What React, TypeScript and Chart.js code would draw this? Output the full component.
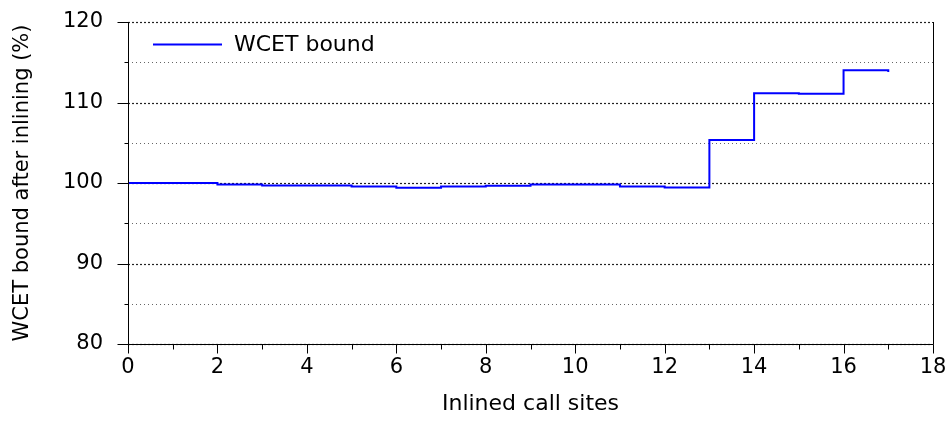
import React, { useEffect, useRef } from "react";
import { Chart, registerables } from "chart.js";

Chart.register(...registerables);

const callSites = [0, 1, 2, 3, 4, 5, 6, 7, 8, 9, 10, 11, 12, 13, 14, 15, 16, 17];
const wcetBound = [100.0, 100.0, 99.8, 99.7, 99.7, 99.55, 99.4, 99.55, 99.65, 99.8, 99.8, 99.55, 99.45, 105.35, 111.15, 111.1, 114.0, 113.8];
const seriesLabel = "WCET bound";
const xTitle = "Inlined call sites";
const yTitle = "WCET bound after inlining (%)";

const FONT = "'DejaVu Sans', sans-serif";

const decorPlugin = {
  id: "decor",
  beforeDatasetsDraw(chart: any) {
    const { ctx, chartArea: a } = chart;
    const y = chart.scales.y;
    ctx.save();
    for (let v = 80; v <= 120; v += 5) {
      const py = Math.round(y.getPixelForValue(v)) + 0.5;
      const major = v % 10 === 0;
      ctx.beginPath();
      ctx.setLineDash(major ? [2, 2] : [1, 3]);
      ctx.lineWidth = major ? 1.2 : 1;
      ctx.strokeStyle = major ? "#222" : "#666";
      ctx.moveTo(a.left, py);
      ctx.lineTo(a.right, py);
      ctx.stroke();
    }
    ctx.restore();
  },
  afterDatasetsDraw(chart: any) {
    const { ctx, chartArea: a } = chart;
    const x = chart.scales.x;
    const y = chart.scales.y;
    ctx.save();
    ctx.setLineDash([]);
    ctx.strokeStyle = "#000";
    ctx.lineWidth = 1;
    const L = Math.round(a.left) + 0.5;
    const R = Math.round(a.right) + 0.5;
    const T = Math.round(a.top);
    const B = Math.round(a.bottom) + 0.5;
    ctx.beginPath();
    ctx.moveTo(L, T);
    ctx.lineTo(L, B);
    ctx.moveTo(R, T);
    ctx.lineTo(R, B);
    ctx.moveTo(L, B);
    ctx.lineTo(R, B);
    for (let v = 80; v <= 120; v += 5) {
      const py = Math.round(y.getPixelForValue(v)) + 0.5;
      const len = v % 10 === 0 ? 11 : 4;
      ctx.moveTo(L - len, py);
      ctx.lineTo(L, py);
    }
    for (let v = 0; v <= 18; v += 1) {
      const px = Math.round(x.getPixelForValue(v)) + 0.5;
      const len = v % 2 === 0 ? 9 : 5;
      ctx.moveTo(px, B);
      ctx.lineTo(px, B + len);
    }
    ctx.stroke();

    const ly = a.top + 22.5;
    ctx.beginPath();
    ctx.strokeStyle = "#0000ff";
    ctx.lineWidth = 2;
    ctx.moveTo(a.left + 25, ly);
    ctx.lineTo(a.left + 94, ly);
    ctx.stroke();
    ctx.fillStyle = "#000";
    ctx.font = `22px ${FONT}`;
    ctx.textBaseline = "middle";
    ctx.textAlign = "left";
    ctx.fillText(seriesLabel, a.left + 106, ly + 1);
    ctx.restore();
  },
};

export default function App() {
  const ref = useRef<HTMLCanvasElement>(null);
  useEffect(() => {
    document.body.style.margin = "0";
    const canvas = ref.current!;
    const chart = new Chart(canvas, {
      type: "line",
      data: {
        datasets: [
          {
            label: seriesLabel,
            data: callSites.map((c, i) => ({ x: c, y: wcetBound[i] })),
            borderColor: "#0000ff",
            backgroundColor: "#0000ff",
            borderWidth: 2,
            pointRadius: 0,
            stepped: "before",
            fill: false,
          },
        ],
      },
      options: {
        animation: false,
        responsive: false,
        devicePixelRatio: 1,
        layout: { padding: { top: 22, right: 19, left: 0, bottom: 0 } },
        plugins: { legend: { display: false }, tooltip: { enabled: false } },
        scales: {
          x: {
            type: "linear",
            min: 0,
            max: 18,
            grid: { display: false, drawTicks: false, tickLength: 0 },
            border: { display: false },
            ticks: {
              stepSize: 2,
              color: "#000",
              font: { family: FONT, size: 21 },
              padding: 11,
              maxRotation: 0,
              autoSkip: false,
            },
            title: {
              display: true,
              text: xTitle,
              color: "#000",
              font: { family: FONT, size: 22 },
              padding: { top: 0, bottom: 12 },
            },
            afterFit: (s: any) => {
              s.height = 85;
              s.paddingLeft = 0;
              s.paddingRight = 0;
            },
          },
          y: {
            min: 80,
            max: 120,
            grid: { display: false, drawTicks: false, tickLength: 0 },
            border: { display: false },
            ticks: {
              stepSize: 10,
              color: "#000",
              font: { family: FONT, size: 21 },
              padding: 25,
            },
            title: {
              display: true,
              text: yTitle,
              color: "#000",
              font: { family: FONT, size: 21 },
              padding: { top: 10, bottom: 0 },
            },
            afterFit: (s: any) => {
              s.width = 128;
              s.paddingTop = 0;
              s.paddingBottom = 0;
            },
          },
        },
      },
      plugins: [decorPlugin],
    });
    return () => chart.destroy();
  }, []);
  return (
    <div style={{ position: "fixed", left: 0, top: 0, width: 952, height: 429 }}>
      <canvas ref={ref} width={952} height={429} style={{ display: "block" }} />
    </div>
  );
}
